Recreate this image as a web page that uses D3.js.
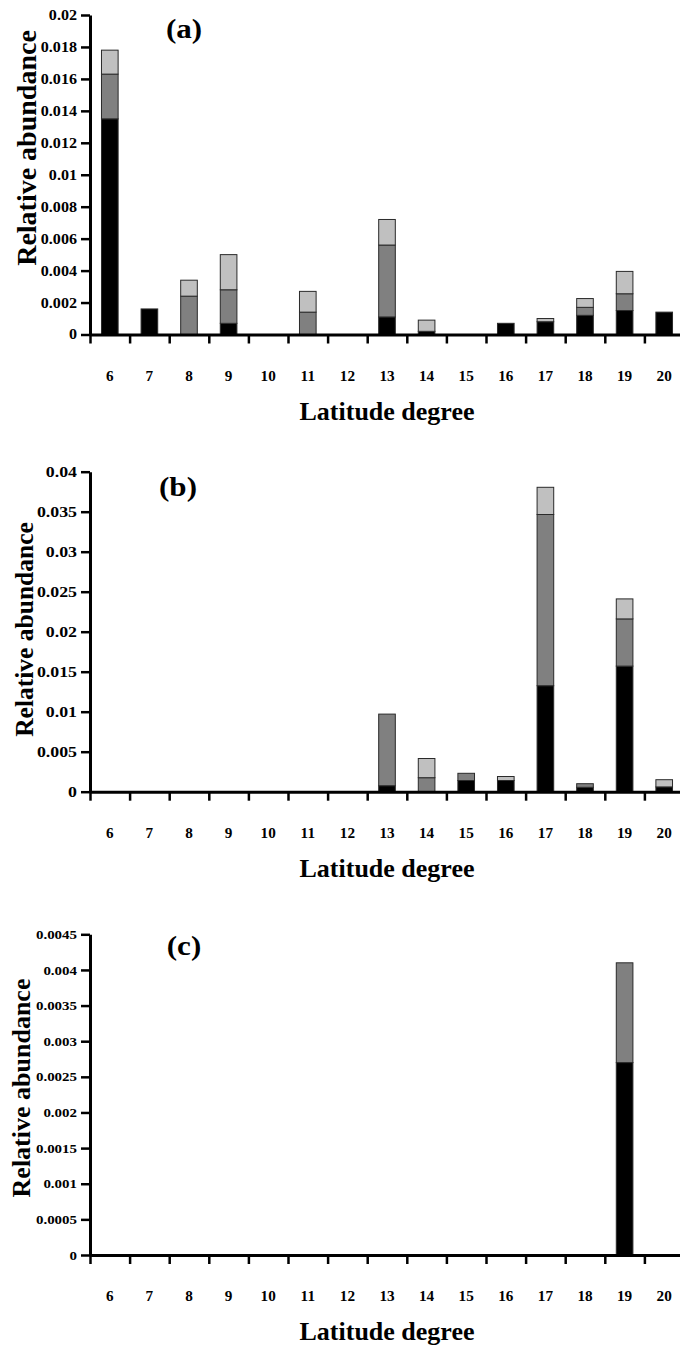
<!DOCTYPE html>
<html>
<head>
<meta charset="utf-8">
<script src="https://cdn.jsdelivr.net/npm/d3@7/dist/d3.min.js"></script>
<style>
  body { margin: 0; background: #fff; }
  svg text { font-family: "Liberation Serif", "Times New Roman", serif; font-weight: bold; fill: #000; }
</style>
</head>
<body>
<svg id="chart" width="680" height="1345"></svg>
<script>
/*
    DATA
    segment heights per latitude, stacked bottom (black) -> middle (dark grey) -> top (light grey)
*/
var latitudes = ["6", "7", "8", "9", "10", "11", "12", "13", "14", "15", "16", "17", "18", "19", "20"];

// panel (a)
var aBlack = [0.0135, 0.0016, 0, 0.0007, 0, 0, 0, 0.0011, 0.0002, 0, 0.0007, 0.0008, 0.0012, 0.0015, 0.0014];
var aDark  = [0.0028, 0, 0.0024, 0.0021, 0, 0.0014, 0, 0.0045, 0, 0, 0, 0, 0.0005, 0.00105, 0];
var aLight = [0.0015, 0, 0.001, 0.0022, 0, 0.0013, 0, 0.0016, 0.0007, 0, 0, 0.0002, 0.00055, 0.0014, 0];

// panel (b)
var bBlack = [0, 0, 0, 0, 0, 0, 0, 0.00075, 0, 0.0014, 0.0014, 0.01325, 0.00055, 0.0157, 0.0006];
var bDark  = [0, 0, 0, 0, 0, 0, 0, 0.00895, 0.00175, 0.0009, 0, 0.0214, 0.00045, 0.0059, 0];
var bLight = [0, 0, 0, 0, 0, 0, 0, 0, 0.0024, 0, 0.0005, 0.0034, 0, 0.0025, 0.0009];

// panel (c)
var cBlack = [0, 0, 0, 0, 0, 0, 0, 0, 0, 0, 0, 0, 0, 0.0027, 0];
var cDark  = [0, 0, 0, 0, 0, 0, 0, 0, 0, 0, 0, 0, 0, 0.0014, 0];
var cLight = [0, 0, 0, 0, 0, 0, 0, 0, 0, 0, 0, 0, 0, 0, 0];

// y tick values
var aTicks = [0, 0.002, 0.004, 0.006, 0.008, 0.01, 0.012, 0.014, 0.016, 0.018, 0.02];
var bTicks = [0, 0.005, 0.01, 0.015, 0.02, 0.025, 0.03, 0.035, 0.04];
var cTicks = [0, 0.0005, 0.001, 0.0015, 0.002, 0.0025, 0.003, 0.0035, 0.004, 0.0045];

var keys = ["black", "dark", "light"];
var colours = {black: "#000000", dark: "#808080", light: "#c0c0c0"};

var svg = d3.select("#chart");

/*
    LAYOUT (shared x range)
*/
var xLeft = 90, xRight = 684;
var stretch = 1.15; // the original labels are a little wide

function buildRows(black, dark, light) {
  return latitudes.map(function(lat, i) {
    return {lat: lat, black: black[i], dark: dark[i], light: light[i]};
  });
}

function drawPanel(p) {
  var rows = buildRows(p.black, p.dark, p.light);

  var x = d3.scaleBand()
    .domain(latitudes)
    .range([xLeft, xRight])
    .paddingInner(0.58)
    .paddingOuter(0.29);

  // boundary ticks between categories
  var xEdge = d3.scaleLinear().domain([0, latitudes.length]).range([xLeft, xRight]);

  var y = d3.scaleLinear()
    .domain([0, p.max])
    .range([p.yZero, p.yTop]);

  var g = svg.append("g");

  // bars
  var stack = d3.stack().keys(keys)(rows);
  stack.forEach(function(layer) {
    g.selectAll(".seg-" + layer.key)
      .data(layer.filter(function(d) { return d[1] - d[0] > 0; }))
      .enter().append("rect")
        .attr("class", "seg-" + layer.key)
        .attr("x", function(d) { return x(d.data.lat); })
        .attr("width", x.bandwidth())
        .attr("y", function(d) { return y(d[1]); })
        .attr("height", function(d) { return y(d[0]) - y(d[1]); })
        .attr("fill", colours[layer.key])
        .attr("stroke", "#2a2a2a")
        .attr("stroke-width", 1);
  });

  // y axis
  var yAxis = g.append("g")
    .attr("transform", "translate(" + xLeft + ",0)")
    .call(d3.axisLeft(y).tickValues(p.ticks).tickSize(9).tickSizeOuter(0).tickPadding(4)
      .tickFormat(function(d) { return String(d); }));
  yAxis.attr("font-family", null).attr("font-size", null);
  yAxis.select(".domain").attr("stroke", "#000").attr("stroke-width", 3);
  yAxis.selectAll(".tick line").attr("stroke", "#000").attr("stroke-width", 2.5);
  yAxis.selectAll(".tick text")
    .style("font-size", p.yTickSize + "px")
    .attr("x", -13 / stretch)
    .attr("transform", "scale(" + stretch + ",1)");

  // x axis line + boundary ticks
  var xAxis = g.append("g")
    .attr("transform", "translate(0," + p.yZero + ")")
    .call(d3.axisBottom(xEdge).tickValues(d3.range(latitudes.length + 1)).tickSize(9).tickSizeOuter(0).tickFormat(""));
  xAxis.select(".domain").attr("stroke", "#000").attr("stroke-width", 3);
  xAxis.selectAll(".tick line").attr("stroke", "#000").attr("stroke-width", 2.5);

  // latitude labels centred under each bar
  var xLabels = g.append("g")
    .attr("transform", "translate(0," + p.yZero + ")")
    .call(d3.axisBottom(x).tickSize(0).tickPadding(36));
  xLabels.attr("font-family", null).attr("font-size", null);
  xLabels.select(".domain").remove();
  xLabels.selectAll(".tick text")
    .style("font-size", "14.5px")
    .attr("transform", "scale(1.05,1)");

  // axis titles
  g.append("text")
    .attr("x", (xLeft + xRight) / 2)
    .attr("y", p.yZero + 85)
    .attr("text-anchor", "middle")
    .style("font-size", "26px")
    .text("Latitude degree");

  g.append("text")
    .attr("transform", "translate(" + p.yTitleX + "," + p.yTitleY + ") rotate(-90)")
    .attr("text-anchor", "middle")
    .attr("dy", "0.35em")
    .style("font-size", p.yTitleSize + "px")
    .text("Relative abundance");

  // panel letter
  g.append("text")
    .attr("transform", "translate(" + p.labelX + "," + p.labelY + ") scale(" + stretch + ",1)")
    .attr("text-anchor", "middle")
    .style("font-size", "27px")
    .text(p.label);
}

drawPanel({label: "(a)", black: aBlack, dark: aDark, light: aLight, ticks: aTicks, max: 0.02,
  yTop: 15, yZero: 334.5, yTickSize: 14, yTitleX: 26, yTitleY: 148, yTitleSize: 28,
  labelX: 184, labelY: 38});

drawPanel({label: "(b)", black: bBlack, dark: bDark, light: bLight, ticks: bTicks, max: 0.04,
  yTop: 471.7, yZero: 791.7, yTickSize: 15.5, yTitleX: 24, yTitleY: 629.5, yTitleSize: 25.5,
  labelX: 178, labelY: 496});

drawPanel({label: "(c)", black: cBlack, dark: cDark, light: cLight, ticks: cTicks, max: 0.0045,
  yTop: 934.3, yZero: 1255, yTickSize: 13, yTitleX: 21, yTitleY: 1088, yTitleSize: 26,
  labelX: 184, labelY: 955});
</script>
</body>
</html>
